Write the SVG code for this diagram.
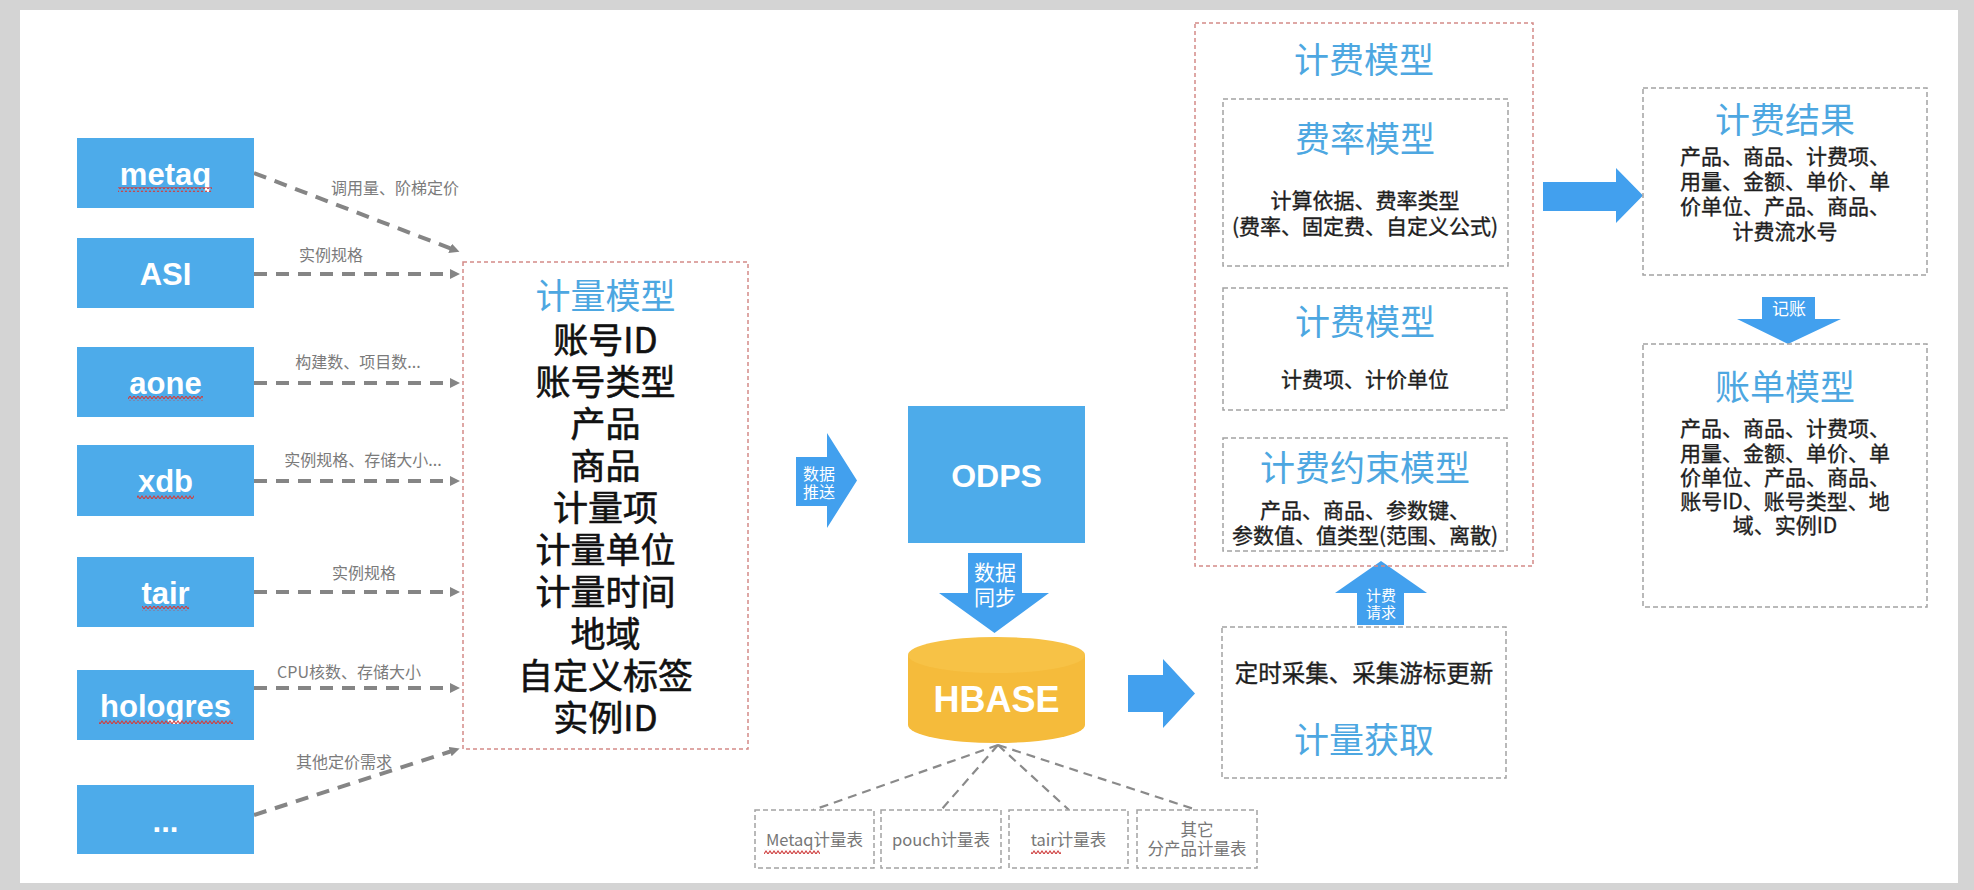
<svg xmlns="http://www.w3.org/2000/svg" width="1974" height="890" viewBox="0 0 1974 890">
<style>
.box{fill:#4dabea}
.blk{fill:#42a0ee}
.wl{font-family:"Liberation Sans",Arial,sans-serif;font-weight:bold;fill:#fff;text-anchor:middle}
.cn{font-family:"Noto Sans CJK SC","Noto Sans",sans-serif;text-anchor:middle}
.lab{font-size:16px;fill:#7b7b7b}
.ttl{font-size:35px;fill:#4da7e1}
.big{font-size:35px;fill:#111;stroke:#111;stroke-width:0.6}
.body{font-size:21px;fill:#1e1e1e;stroke:#1e1e1e;stroke-width:0.35}
.aw{fill:#fff}
.edge{stroke:#858585;stroke-width:4;stroke-dasharray:13 9;fill:none}
.thin{stroke:#8a8a8a;stroke-width:2.2;stroke-dasharray:9 6;fill:none}
.red{fill:none;stroke:#d38b88;stroke-width:1.5;stroke-dasharray:4 3}
.gray{fill:#fff;stroke:#a3a3a3;stroke-width:1.5;stroke-dasharray:5 3}
.tbl{font-size:16.5px;fill:#777}
</style>
<defs>
<marker id="ah" markerUnits="userSpaceOnUse" markerWidth="12" markerHeight="12" refX="2" refY="5" orient="auto">
<path d="M0,0 L10,5 L0,10 Z" fill="#858585"/>
</marker>
<pattern id="wave" width="4" height="5" patternUnits="userSpaceOnUse">
<path d="M0,4 L2,1 L4,4" fill="none" stroke="#cf3f3f" stroke-width="1.1"/>
</pattern>
</defs>
<rect x="0" y="0" width="1974" height="890" fill="#d4d4d4"/>
<rect x="20" y="10" width="1938" height="873" fill="#fff"/>

<g id="connectors">
<line class="edge" x1="254" y1="173" x2="452" y2="249" marker-end="url(#ah)"/>
<line class="edge" x1="254" y1="274" x2="452" y2="274" marker-end="url(#ah)"/>
<line class="edge" x1="254" y1="383" x2="452" y2="383" marker-end="url(#ah)"/>
<line class="edge" x1="254" y1="481" x2="452" y2="481" marker-end="url(#ah)"/>
<line class="edge" x1="254" y1="592" x2="452" y2="592" marker-end="url(#ah)"/>
<line class="edge" x1="254" y1="688" x2="452" y2="688" marker-end="url(#ah)"/>
<line class="edge" x1="254" y1="815" x2="452" y2="751" marker-end="url(#ah)"/>
<text class="cn lab" x="395" y="194">调用量、阶梯定价</text>
<text class="cn lab" x="331" y="261">实例规格</text>
<text class="cn lab" x="358" y="368">构建数、项目数...</text>
<text class="cn lab" x="363" y="466">实例规格、存储大小...</text>
<text class="cn lab" x="364" y="579">实例规格</text>
<text class="cn lab" x="349" y="678">CPU核数、存储大小</text>
<text class="cn lab" x="344" y="768">其他定价需求</text>
<line class="thin" x1="998" y1="745" x2="813" y2="810"/>
<line class="thin" x1="998" y1="745" x2="941" y2="810"/>
<line class="thin" x1="998" y1="745" x2="1069" y2="810"/>
<line class="thin" x1="998" y1="745" x2="1197" y2="810"/>
<g id="arrow-push">
<polygon class="blk" points="796,457 827,457 827,433 857,480.5 827,528 827,506 796,506"/>
<text class="cn aw" font-size="16" x="819" y="480">数据</text>
<text class="cn aw" font-size="16" x="819" y="498">推送</text>
</g>
<g id="arrow-sync">
<polygon class="blk" points="968,553 1022,553 1022,593 1049,593 994.5,633 939,593 968,593"/>
<text class="cn aw" font-size="21" x="995" y="580">数据</text>
<text class="cn aw" font-size="21" x="995" y="605">同步</text>
</g>
<polygon id="arrow-hbase" class="blk" points="1128,675 1163,675 1163,659 1195,693.5 1163,728 1163,712 1128,712"/>
<g id="arrow-req">
<polygon class="blk" points="1357,625 1357,593 1335,593 1381,561 1427,593 1404,593 1404,625"/>
<text class="cn aw" font-size="15" x="1381" y="601">计费</text>
<text class="cn aw" font-size="15" x="1381" y="618">请求</text>
</g>
<polygon id="arrow-result" class="blk" points="1543,182 1616,182 1616,168 1643,195.5 1616,223 1616,211 1543,211"/>
<g id="arrow-bill">
<polygon class="blk" points="1762,297 1815,297 1815,319 1841,319 1788,344 1737,319 1762,319"/>
<text class="cn aw" font-size="17" x="1789" y="315">记账</text>
</g>
</g>

<g id="src-metaq"><rect class="box" x="77" y="138" width="177" height="70"/><text class="wl" font-size="31" x="165.5" y="185">metaq</text><rect x="118" y="187" width="94" height="5" fill="url(#wave)"/></g>
<g id="src-asi"><rect class="box" x="77" y="238" width="177" height="70"/><text class="wl" font-size="31" x="165.5" y="285">ASI</text></g>
<g id="src-aone"><rect class="box" x="77" y="347" width="177" height="70"/><text class="wl" font-size="31" x="165.5" y="394">aone</text><rect x="128" y="396" width="75" height="5" fill="url(#wave)"/></g>
<g id="src-xdb"><rect class="box" x="77" y="445" width="177" height="71"/><text class="wl" font-size="31" x="165.5" y="492">xdb</text><rect x="137" y="494" width="57" height="5" fill="url(#wave)"/></g>
<g id="src-tair"><rect class="box" x="77" y="557" width="177" height="70"/><text class="wl" font-size="31" x="165.5" y="604">tair</text><rect x="142" y="606" width="47" height="5" fill="url(#wave)"/></g>
<g id="src-hologres"><rect class="box" x="77" y="670" width="177" height="70"/><text class="wl" font-size="31" x="165.5" y="717">hologres</text><rect x="99" y="719" width="134" height="5" fill="url(#wave)"/></g>
<g id="src-more"><rect class="box" x="77" y="785" width="177" height="69"/><text class="wl" font-size="31" x="165.5" y="832">...</text></g>

<g id="metering-model">
<rect class="red" x="463" y="262" width="285" height="487"/>
<text class="cn ttl" x="605.5" y="309">计量模型</text>
<text class="cn big" x="605.5" y="353">账号ID</text>
<text class="cn big" x="605.5" y="395">账号类型</text>
<text class="cn big" x="605.5" y="437">产品</text>
<text class="cn big" x="605.5" y="479">商品</text>
<text class="cn big" x="605.5" y="521">计量项</text>
<text class="cn big" x="605.5" y="563">计量单位</text>
<text class="cn big" x="605.5" y="605">计量时间</text>
<text class="cn big" x="605.5" y="647">地域</text>
<text class="cn big" x="605.5" y="689">自定义标签</text>
<text class="cn big" x="605.5" y="731">实例ID</text>
</g>

<g id="odps"><rect class="box" x="908" y="406" width="177" height="137"/><text class="wl" font-size="32" x="996.5" y="486.5">ODPS</text></g>

<g id="hbase">
<path d="M908,655 L908,725 A88.5,18 0 0 0 1085,725 L1085,655 Z" fill="#f5bb3b"/>
<ellipse cx="996.5" cy="655" rx="88.5" ry="18" fill="#f7c246"/>
<text class="wl" font-size="36" x="996.5" y="711.5">HBASE</text>
</g>

<g id="tbl-metaq"><rect class="gray" x="755" y="810" width="119" height="58"/><text class="cn tbl" x="814.5" y="846">Metaq计量表</text><rect x="764" y="849" width="56" height="5" fill="url(#wave)"/></g>
<g id="tbl-pouch"><rect class="gray" x="881" y="810" width="120" height="58"/><text class="cn tbl" x="941" y="846">pouch计量表</text></g>
<g id="tbl-tair"><rect class="gray" x="1009" y="810" width="119" height="58"/><text class="cn tbl" x="1068.5" y="846">tair计量表</text><rect x="1031" y="849" width="30" height="5" fill="url(#wave)"/></g>
<g id="tbl-other"><rect class="gray" x="1137" y="810" width="120" height="58"/><text class="cn tbl" x="1197" y="836">其它</text><text class="cn tbl" x="1197" y="855">分产品计量表</text></g>

<g id="billing-model">
<rect class="red" x="1195" y="23" width="338" height="543"/>
<text class="cn ttl" x="1364" y="73">计费模型</text>
</g>
<g id="rate-model">
<rect class="gray" x="1223" y="99" width="285" height="167"/>
<text class="cn ttl" x="1365" y="152">费率模型</text>
<text class="cn body" x="1365" y="208">计算依据、费率类型</text>
<text class="cn body" x="1365" y="234">(费率、固定费、自定义公式)</text>
</g>
<g id="charge-model">
<rect class="gray" x="1223" y="288" width="284" height="122"/>
<text class="cn ttl" x="1365" y="335">计费模型</text>
<text class="cn body" x="1365" y="387">计费项、计价单位</text>
</g>
<g id="constraint-model">
<rect class="gray" x="1223" y="438" width="284" height="113"/>
<text class="cn ttl" x="1365" y="481">计费约束模型</text>
<text class="cn body" x="1365" y="518">产品、商品、参数键、</text>
<text class="cn body" x="1365" y="543">参数值、值类型(范围、离散)</text>
</g>
<g id="metering-fetch">
<rect class="gray" x="1222" y="627" width="284" height="151"/>
<text class="cn body" style="font-size:23.5px" x="1364" y="682">定时采集、采集游标更新</text>
<text class="cn ttl" x="1364" y="753">计量获取</text>
</g>
<g id="billing-result">
<rect class="gray" x="1643" y="88" width="284" height="187"/>
<text class="cn ttl" x="1785" y="133">计费结果</text>
<text class="cn body" x="1785" y="164">产品、商品、计费项、</text>
<text class="cn body" x="1785" y="189">用量、金额、单价、单</text>
<text class="cn body" x="1785" y="214">价单位、产品、商品、</text>
<text class="cn body" x="1785" y="239">计费流水号</text>
</g>
<g id="bill-model">
<rect class="gray" x="1643" y="344" width="284" height="263"/>
<text class="cn ttl" x="1785" y="400">账单模型</text>
<text class="cn body" x="1785" y="436">产品、商品、计费项、</text>
<text class="cn body" x="1785" y="461">用量、金额、单价、单</text>
<text class="cn body" x="1785" y="485">价单位、产品、商品、</text>
<text class="cn body" x="1785" y="509">账号ID、账号类型、地</text>
<text class="cn body" x="1785" y="533">域、实例ID</text>
</g>
</svg>
